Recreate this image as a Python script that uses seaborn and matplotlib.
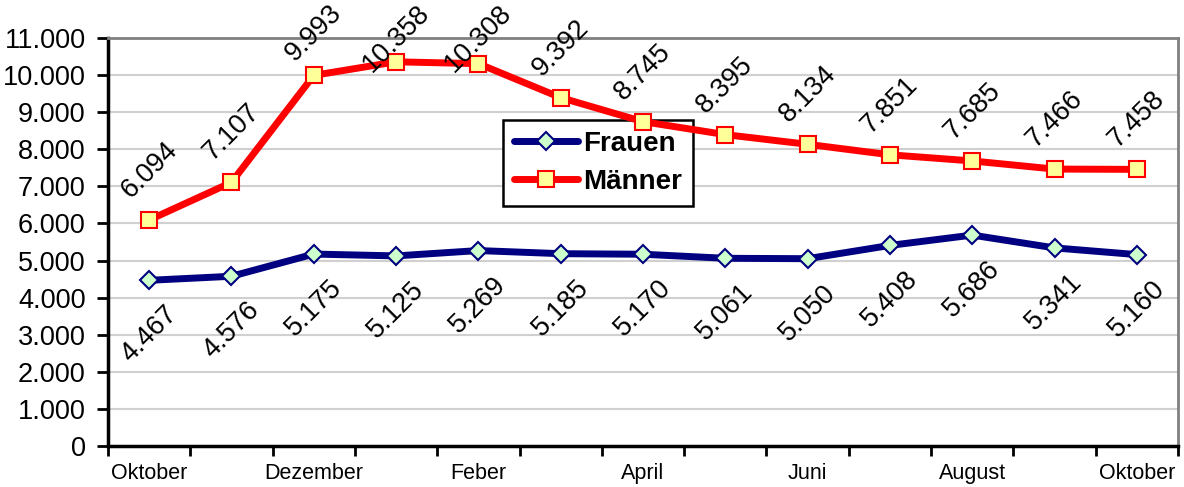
import pandas as pd
import numpy as np
import matplotlib
matplotlib.use("Agg")
import matplotlib.pyplot as plt
import seaborn as sns

# values
months = ["Oktober", "November", "Dezember", "Jänner", "Feber", "März", "April",
          "Mai", "Juni", "Juli", "August", "September", "Oktober"]
frauen = [4467, 4576, 5175, 5125, 5269, 5185, 5170, 5061, 5050, 5408, 5686, 5341, 5160]
maenner = [6094, 7107, 9993, 10358, 10308, 9392, 8745, 8395, 8134, 7851, 7685, 7466, 7458]
y_ticks = list(range(0, 12000, 1000))

sns.set_style("white")
plt.rcParams["font.family"] = ["Liberation Sans", "DejaVu Sans"]
plt.rcParams["text.color"] = "black"
plt.rcParams["xtick.color"] = "black"
plt.rcParams["ytick.color"] = "black"

df = pd.DataFrame({"pos": np.arange(len(months)), "Frauen": frauen, "Männer": maenner})

def fmt(v):
    return f"{v:,}".replace(",", ".")

fig = plt.figure(figsize=(11.84, 4.87), dpi=100)
ax = fig.add_axes([108 / 1184, 1 - 446 / 487, 1070 / 1184, 408 / 487])

# grid
for y in y_ticks[1:-1]:
    ax.axhline(y, color="#d0d0d0", lw=1.5, zorder=0)

sns.lineplot(data=df, x="pos", y="Frauen", ax=ax, color="#000080", lw=5,
             marker="D", markersize=9, markerfacecolor="#ccffcc",
             markeredgecolor="#000080", markeredgewidth=1.5, label="Frauen", zorder=3)
sns.lineplot(data=df, x="pos", y="Männer", ax=ax, color="#ff0000", lw=5,
             marker="s", markersize=11, markerfacecolor="#ffff99",
             markeredgecolor="#ff0000", markeredgewidth=1.5, label="Männer", zorder=3)

# data labels
for i, v in enumerate(frauen):
    ax.annotate(fmt(v), (i, v), xytext=(0, -39), textcoords="offset points",
                ha="center", va="center", rotation=45, fontsize=19.5, annotation_clip=False)
top_labels = []
for i, v in enumerate(maenner):
    t = ax.annotate(fmt(v), (i, v), xytext=(0, 36), textcoords="offset points",
                    ha="center", va="center", rotation=45, fontsize=19.5, annotation_clip=False)
    top_labels.append(t)

ax.set_xlim(-0.5, len(months) - 0.5)
ax.set_ylim(0, 11000)
ax.set_yticks(y_ticks)
ax.set_yticklabels([fmt(v) for v in y_ticks], fontsize=19.5)
ax.tick_params(axis="y", length=8, width=2, pad=8, left=True, color="black")

# ticks at category boundaries, labels every second month
ax.set_xticks(np.arange(-0.5, len(months), 1.0))
ax.set_xticklabels([])
ax.tick_params(axis="x", which="major", length=7, width=2, bottom=True, color="black")
ax.set_xticks(np.arange(0, len(months), 2), minor=True)
ax.set_xticklabels(months[::2], minor=True, fontsize=15.5)
ax.tick_params(axis="x", which="minor", length=0, pad=12)
ax.set_xlabel("")
ax.set_ylabel("")

for side in ["left", "bottom"]:
    ax.spines[side].set_color("black")
    ax.spines[side].set_linewidth(2.5)
for side in ["top", "right"]:
    ax.spines[side].set_visible(True)
    ax.spines[side].set_color("#808080")
    ax.spines[side].set_linewidth(2)

leg = ax.legend(loc="upper left", bbox_to_anchor=(0.369, 0.80), frameon=True,
                fancybox=False, framealpha=1, edgecolor="black",
                prop={"size": 20, "weight": "bold"}, handlelength=2.3,
                handletextpad=0.2, borderpad=0.4, labelspacing=0.45, borderaxespad=0)
leg.get_frame().set_linewidth(1.8)
leg.set_zorder(2)

# keep top labels inside the figure like the original
fig.canvas.draw()
r = fig.canvas.get_renderer()
for t in top_labels:
    bb = t.get_window_extent(r)
    over = bb.y1 - fig.bbox.height
    if over > 0:
        dx, dy = t.xyann
        t.xyann = (dx, dy - over * 72 / fig.dpi)

fig.savefig("out.png", dpi=100)
